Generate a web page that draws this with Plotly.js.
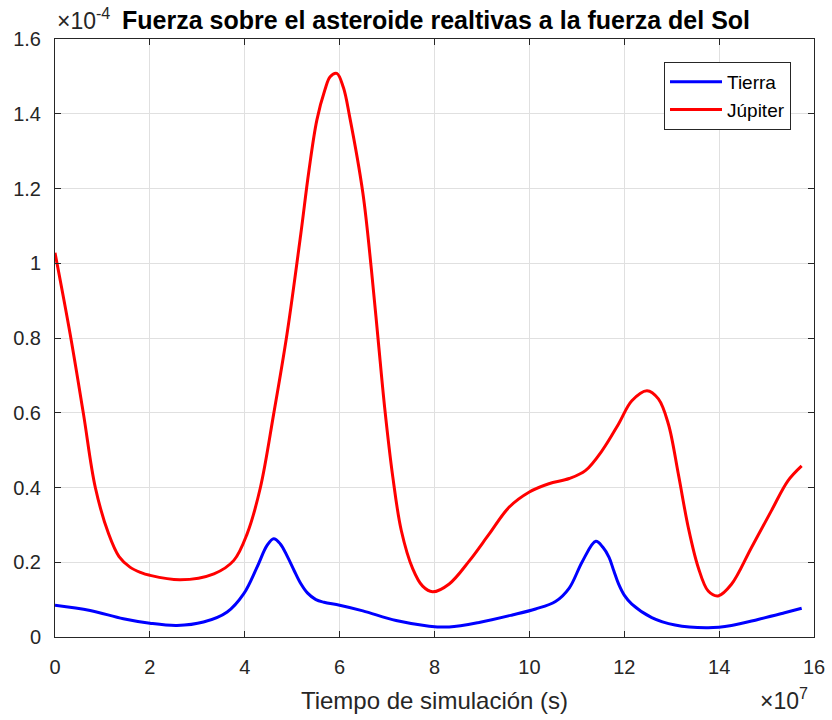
<!DOCTYPE html>
<html>
<head>
<meta charset="utf-8">
<script src="https://cdn.plot.ly/plotly-3.0.1.min.js"></script>
<style>
  html, body { margin: 0; padding: 0; background: #fff; }
  #chart { width: 832px; height: 720px; }
</style>
</head>
<body>
<div id="chart"></div>
<script>
// Tiempo de simulación, en unidades de 1e7 s
const tierraT = [0, 0.74, 1.44, 2.0, 2.57, 3.13, 3.63, 3.98, 4.26, 4.47, 4.61, 4.75, 4.90, 5.04, 5.18, 5.32, 5.50, 5.67, 6.0,
  6.49, 7.19, 7.89, 8.31, 8.94, 9.64, 10.13, 10.55, 10.84, 11.12, 11.40, 11.55, 11.68, 11.78, 11.88, 12.0, 12.16, 12.58,
  13.07, 13.77, 14.26, 14.82, 15.38, 15.74];
// Fuerza de la Tierra relativa a la del Sol, en unidades de 1e-4
const tierraF = [0.085, 0.071, 0.049, 0.037, 0.031, 0.040, 0.067, 0.116, 0.187, 0.245, 0.263, 0.249, 0.215, 0.178, 0.143, 0.118, 0.100, 0.093, 0.085,
  0.070, 0.044, 0.029, 0.027, 0.039, 0.059, 0.075, 0.095, 0.131, 0.203, 0.256, 0.240, 0.213, 0.177, 0.142, 0.112, 0.088, 0.052,
  0.032, 0.025, 0.031, 0.047, 0.065, 0.077];

const jupiterT = [0, 0.32, 0.60, 0.85, 1.13, 1.35, 1.58, 1.80, 2.0, 2.64, 3.35, 3.77, 4.05, 4.33, 4.61, 4.89, 5.18, 5.35, 5.52,
  5.69, 5.80, 5.94, 6.08, 6.21, 6.49, 6.67, 6.81, 6.95, 7.12, 7.30, 7.54, 7.75, 7.96, 8.31, 8.73, 9.15,
  9.57, 10.0, 10.41, 10.84, 11.18, 11.53, 11.88, 12.16, 12.48, 12.72, 12.93, 13.14, 13.35, 13.56, 13.77,
  13.98, 14.26, 14.68, 15.10, 15.45, 15.74];
// Fuerza de Júpiter relativa a la del Sol, en unidades de 1e-4
const jupiterF = [1.028, 0.81, 0.597, 0.40, 0.276, 0.215, 0.187, 0.173, 0.165, 0.153, 0.169, 0.205, 0.276, 0.40, 0.597, 0.81, 1.077, 1.245, 1.383,
  1.464, 1.499, 1.508, 1.47, 1.393, 1.188, 0.983, 0.798, 0.613, 0.429, 0.285, 0.183, 0.136, 0.121, 0.142, 0.203, 0.275,
  0.347, 0.388, 0.41, 0.424, 0.445, 0.498, 0.57, 0.632, 0.659, 0.637, 0.57, 0.436, 0.293, 0.186, 0.123,
  0.11, 0.141, 0.239, 0.3375, 0.418, 0.458];

const xTicks = [0, 2, 4, 6, 8, 10, 12, 14, 16];
const yTicks = [0, 0.2, 0.4, 0.6, 0.8, 1, 1.2, 1.4, 1.6];

const FONT = 'Liberation Sans, Arial, Helvetica, sans-serif';
const AXIS = '#262626';

const traces = [
  { x: tierraT, y: tierraF, name: 'Tierra', type: 'scatter', mode: 'lines',
    line: { color: '#0000ff', width: 3, shape: 'spline', smoothing: 1 } },
  { x: jupiterT, y: jupiterF, name: 'Júpiter', type: 'scatter', mode: 'lines',
    line: { color: '#ff0000', width: 3, shape: 'spline', smoothing: 1 } }
];

const axisCommon = {
  showline: true, linecolor: AXIS, linewidth: 1, mirror: 'ticks',
  ticks: 'inside', ticklen: 6, tickwidth: 1, tickcolor: AXIS,
  showgrid: true, gridcolor: '#e0e0e0', gridwidth: 1,
  zeroline: false, tickfont: { family: FONT, size: 20, color: AXIS },
  automargin: false
};

const layout = {
  width: 832, height: 720,
  margin: { l: 55, r: 18, t: 39, b: 83 },
  paper_bgcolor: '#fff', plot_bgcolor: '#fff',
  font: { family: FONT, color: AXIS },
  title: {
    text: 'Fuerza sobre el asteroide realtivas a la fuerza del Sol',
    font: { family: FONT, size: 25, color: '#000', weight: 'bold' },
    xref: 'paper', x: 0.502, xanchor: 'center',
    yref: 'container', y: 1 - 20 / 720, yanchor: 'middle'
  },
  xaxis: Object.assign({}, axisCommon, {
    range: [0, 16], tickvals: xTicks, ticktext: xTicks.map(String),
    ticklabelstandoff: 12,
    title: { text: 'Tiempo de simulación (s)', font: { family: FONT, size: 24, color: AXIS }, standoff: 15 }
  }),
  yaxis: Object.assign({}, axisCommon, {
    range: [0, 1.6], tickvals: yTicks, ticktext: yTicks.map(String),
    ticklabelstandoff: 9
  }),
  showlegend: true,
  legend: {
    x: (791 - 55) / 759, xanchor: 'right', xref: 'paper',
    y: (637 - 62) / 598, yanchor: 'top', yref: 'paper',
    bgcolor: '#fff', bordercolor: AXIS, borderwidth: 1,
    font: { family: FONT, size: 19, color: '#000' },
    itemwidth: 52, tracegroupgap: 0
  },
  annotations: [
    { text: '×10<sup>-4</sup>', xref: 'paper', yref: 'paper',
      x: (55 - 55) / 759, xanchor: 'left', y: (637 - 36) / 598, yanchor: 'bottom',
      showarrow: false, font: { family: FONT, size: 23, color: AXIS } },
    { text: '×10<sup>7</sup>', xref: 'paper', yref: 'paper',
      x: (810 - 55) / 759, xanchor: 'right', y: (637 - 716) / 598, yanchor: 'bottom',
      showarrow: false, font: { family: FONT, size: 23, color: AXIS } }
  ]
};

Plotly.newPlot('chart', traces, layout, { displayModeBar: false, staticPlot: true });
</script>
</body>
</html>
